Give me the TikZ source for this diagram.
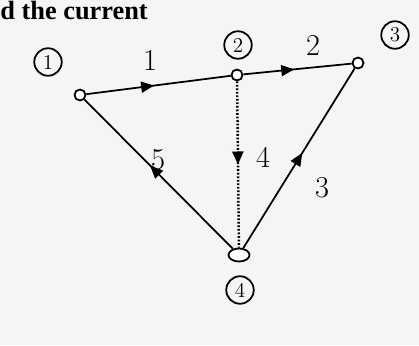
\documentclass[tikz,border=0pt]{standalone}
\usepackage{amsmath, amssymb}
\usepackage{fontspec}
\newfontfamily\scanfont{Liberation Serif}
\usepackage{tikz}
\usetikzlibrary{shapes, backgrounds, positioning, arrows.meta, calc, decorations.markings}

\begin{document}
\begin{tikzpicture}[
		vtx/.style={draw, circle, line width=1pt, fill=white, inner sep=0pt, minimum size=0.22cm},
		numlbl/.style={draw, circle, line width=1pt, inner sep=0pt, minimum size=0.55cm, font=\large},
		edgelbl/.style={font=\LARGE},
		branch/.style={line width=1pt, postaction={decorate}},
		midarrow/.style={decoration={markings, mark=at position #1 with {\arrow{Triangle[length=2.6mm, width=2.2mm]}}}}
	]
		
		% paper
		\fill[gray!8] (0, 0) rectangle (8.38, 6.9);
		\useasboundingbox (0, 0) rectangle (8.38, 6.9);
		
		% line of text at the top
		\node[anchor=base west, font=\fontsize{15}{17}\scanfont\bfseries, inner sep=0pt] (head) at (0, 6.5) {d the current};
		
		% Nodes
		\node[vtx] (v1) at (1.6, 5.0) {};
		\node[vtx] (v2) at (4.74, 5.4) {};
		\node[vtx] (v3) at (7.16, 5.64) {};
		\node[vtx, ellipse, minimum width=0.42cm, minimum height=0.26cm] (v4) at (4.78, 1.8) {};
		
		\node[numlbl] (n1) at (0.96, 5.66) {1};
		\node[numlbl] (n2) at (4.76, 6.0) {2};
		\node[numlbl] (n3) at (7.9, 6.2) {3};
		\node[numlbl] (n4) at (4.8, 1.1) {4};
		
		% Branches
		\draw[branch, midarrow=0.47] (v1) -- (v2);
		\draw[branch, midarrow=0.47] (v2) -- (v3);
		\draw[branch, densely dotted, line width=1.4pt, midarrow=0.5] (v2) -- (v4);
		\draw[branch, midarrow=0.53] (v4) -- (v3);
		\draw[branch, midarrow=0.56] (v4) -- (v1);
		
		% Branch numbers
		\node[edgelbl] (b1) at (3.0, 5.7) {1};
		\node[edgelbl] (b2) at (6.26, 6.0) {2};
		\node[edgelbl] (b3) at (6.44, 3.14) {3};
		\node[edgelbl] (b4) at (5.26, 3.76) {4};
		\node[edgelbl] (b5) at (3.16, 3.7) {5};
		
	\end{tikzpicture}
\end{document}
